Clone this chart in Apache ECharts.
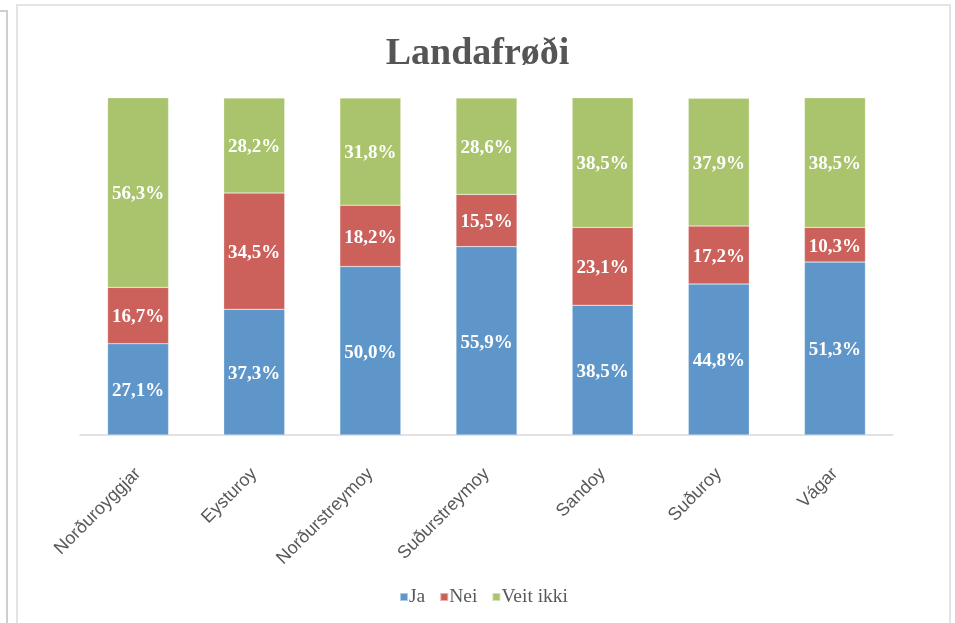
<!DOCTYPE html>
<html>
<head>
<meta charset="utf-8">
<script src="https://cdn.jsdelivr.net/npm/echarts@6/dist/echarts.min.js"></script>
<style>
html,body{margin:0;padding:0;background:#fff;}
#chart{width:955px;height:623px;}
</style>
</head>
<body>
<div id="chart"></div>
<script>
const categories = ['Norðuroyggjar','Eysturoy','Norðurstreymoy','Suðurstreymoy','Sandoy','Suðuroy','Vágar'];
const ja = [27.1, 37.3, 50.0, 55.9, 38.5, 44.8, 51.3];
const nei = [16.7, 34.5, 18.2, 15.5, 23.1, 17.2, 10.3];
const veitIkki = [56.3, 28.2, 31.8, 28.6, 38.5, 37.9, 38.5];
const seriesNames = ['Ja','Nei','Veit ikki'];
const colors = ['#5f96ca','#cc605a','#a9c46c'];

const chart = echarts.init(document.getElementById('chart'), null, {renderer:'canvas'});
const labelCfg = {
  show: true,
  position: 'inside',
  offset: [0, 2],
  color: '#ffffff',
  fontFamily: '"Liberation Serif", serif',
  fontWeight: 'bold',
  fontSize: 19,
  formatter: p => p.value.toFixed(1).replace('.', ',') + '%'
};
const dataSets = [ja, nei, veitIkki];
chart.setOption({
  backgroundColor: '#ffffff',
  animation: false,
  title: {
    text: 'Landafrøði',
    left: 'center',
    top: 30,
    textStyle: {
      fontFamily: '"Liberation Serif", serif',
      fontWeight: 'bold',
      fontSize: 38,
      color: '#555555'
    }
  },
  legend: {
    data: seriesNames,
    left: 394,
    top: 582,
    itemWidth: 8,
    itemHeight: 8,
    itemGap: 14,
    icon: 'rect',
    textStyle: {
      fontFamily: '"Liberation Serif", serif',
      fontSize: 19.5,
      color: '#595959',
      padding: [0,0,0,-4]
    }
  },
  grid: { left: 80, right: 62, top: 98, bottom: 188, containLabel: false },
  xAxis: {
    type: 'category',
    data: categories,
    axisLine: { show: true, lineStyle: { color: '#d9d9d9', width: 1.5 } },
    axisTick: { show: false },
    axisLabel: {
      rotate: 45,
      margin: 36,
      interval: 0,
      fontFamily: '"Liberation Sans", sans-serif',
      fontSize: 18,
      color: '#595959'
    }
  },
  yAxis: {
    type: 'value',
    min: 0,
    max: 100,
    show: false,
    splitLine: { show: false }
  },
  series: seriesNames.map((name, i) => ({
    name: name,
    type: 'bar',
    stack: 'total',
    barWidth: 61,
    data: dataSets[i],
    itemStyle: { color: colors[i], borderColor: 'rgba(255,255,255,0.5)', borderWidth: 0.5 },
    label: labelCfg
  })),
  graphic: [
    { type: 'rect', shape: { x: 17, y: 5, width: 933, height: 640 }, style: { fill: 'none', stroke: '#e4e4e4', lineWidth: 2 }, silent: true },
    { type: 'polyline', shape: { points: [[0,11],[7,11],[7,640]] }, style: { fill: 'none', stroke: '#cfcfcf', lineWidth: 2 }, silent: true }
  ]
});
</script>
</body>
</html>
